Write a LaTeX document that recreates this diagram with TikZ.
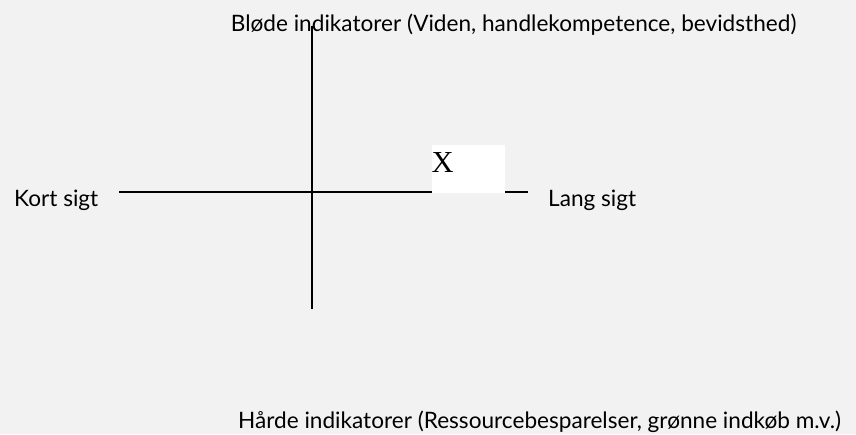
\documentclass[tikz,border=0pt]{standalone}
\usepackage{fontspec}
\setmainfont{Lato}
\newfontfamily\xfont{Liberation Serif}
\definecolor{bg}{HTML}{F2F2F2}
\begin{document}
\begin{tikzpicture}[x=1pt,y=1pt,
  lbl/.style={inner sep=0pt,anchor=base west,font=\fontsize{22.6}{27}\selectfont},
  axis/.style={line width=2pt,black}]
\fill[bg] (0,0) rectangle (856,434);
\useasboundingbox (0,0) rectangle (856,434);
% axis end points
\coordinate (hl) at (119,242.3);
\coordinate (hr) at (528,242.3);
\coordinate (vt) at (311.7,408);
\coordinate (vb) at (311.7,125.3);
\draw[axis] (hl) -- (hr);
\draw[axis] (vt) -- (vb);
% X box
\node[fill=white,inner sep=0pt,minimum width=73pt,minimum height=48pt,anchor=south west] (xbox) at (432,241) {};
\node[inner sep=0pt,anchor=base west,font=\xfont\fontsize{30.5}{34}\selectfont] (xlbl) at (431.5,261) {X};
% labels
\node[lbl] (top) at (230.7,402) {Bløde indikatorer (Viden, handlekompetence, bevidsthed)};
\node[lbl] (kort) at (14,227) {Kort sigt};
\node[lbl] (lang) at (548,227) {Lang sigt};
\node[lbl] (bund) at (238,6) {Hårde indikatorer (Ressourcebesparelser, grønne indkøb m.v.)};
\end{tikzpicture}
\end{document}
